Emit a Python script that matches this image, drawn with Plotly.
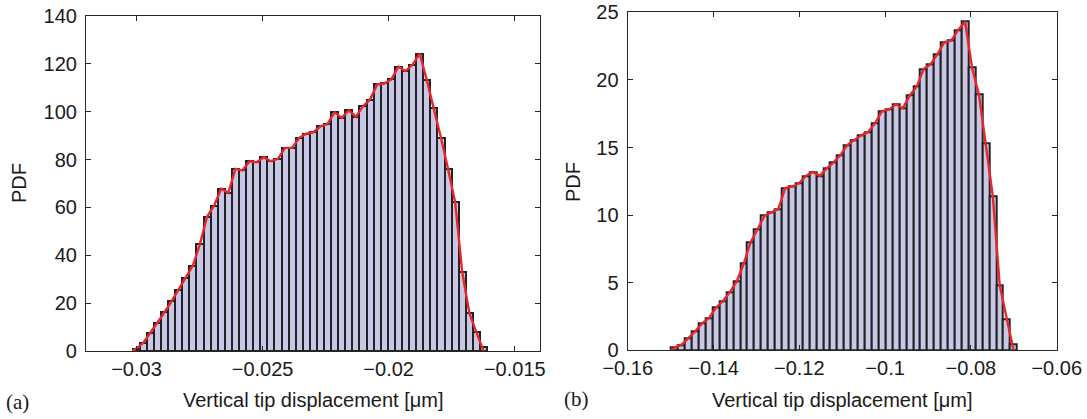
import numpy as np
import plotly.graph_objects as go

# ---------------- data ----------------
# Panel (a): histogram of vertical tip displacement [um]
a_bin_start = -0.03015
a_bin_width = 0.000281
a_pdf = [1.0, 3.4, 7.6, 11.8, 16.2, 20.8, 25.7, 30.6, 35.7, 44.8,
         56.1, 60.8, 67.8, 66.1, 76.1, 75.5, 79.3, 78.9, 81.0, 79.3,
         80.3, 84.9, 84.9, 89.1, 90.8, 91.4, 93.9, 94.9, 99.8, 97.4,
         100.6, 97.8, 102.3, 105.1, 111.4, 111.8, 113.5, 118.8, 117.0, 119.7,
         124.3, 113.2, 101.6, 89.1, 76.1, 62.2, 32.9, 15.9, 7.8, 1.7]
# red curve (density estimate) values at bin centres
a_curve = [1.0, 3.4, 7.6, 11.8, 16.2, 20.8, 25.7, 30.6, 35.7, 44.8,
           56.1, 60.8, 67.8, 66.1, 76.1, 75.5, 79.3, 78.9, 81.0, 79.3,
           80.3, 84.9, 84.9, 89.1, 90.8, 91.4, 93.9, 94.9, 99.8, 97.4,
           100.6, 97.8, 102.3, 105.1, 111.4, 111.8, 113.5, 118.8, 117.0, 119.7,
           124.3, 113.2, 101.6, 89.1, 76.1, 62.2, 32.9, 15.9, 7.8, 0.0]

# Panel (b)
b_bin_start = -0.1499
b_bin_width = 0.001613
b_pdf = [0.2, 0.4, 0.9, 1.4, 2.0, 2.4, 3.15, 3.65, 4.3, 5.1,
         6.4, 8.0, 8.95, 9.95, 10.2, 10.45, 12.0, 12.1, 12.35, 12.9,
         13.2, 12.9, 13.45, 13.9, 14.45, 15.2, 15.55, 15.9, 16.15, 16.8,
         17.7, 17.8, 18.2, 17.9, 18.85, 19.5, 20.8, 21.15, 21.9, 22.8,
         22.9, 23.7, 24.3, 20.9, 18.9, 15.3, 11.4, 4.8, 2.3, 0.45]
b_curve = [0.2, 0.4, 0.9, 1.4, 2.0, 2.4, 3.15, 3.65, 4.3, 5.1,
           6.4, 8.0, 8.95, 9.95, 10.2, 10.45, 12.0, 12.1, 12.35, 12.9,
           13.2, 12.9, 13.45, 13.9, 14.45, 15.2, 15.55, 15.9, 16.15, 16.8,
           17.7, 17.8, 18.2, 17.9, 18.85, 19.5, 20.8, 21.15, 21.9, 22.8,
           22.9, 23.7, 24.3, 20.9, 18.9, 15.3, 11.4, 4.8, 2.3, 0.0]

a_xticks = [-0.03, -0.025, -0.02, -0.015]
a_xticktext = ["\u22120.03", "\u22120.025", "\u22120.02", "\u22120.015"]
a_yticks = [0, 20, 40, 60, 80, 100, 120, 140]
b_xticks = [-0.16, -0.14, -0.12, -0.1, -0.08, -0.06]
b_xticktext = ["\u22120.16", "\u22120.14", "\u22120.12", "\u22120.1", "\u22120.08", "\u22120.06"]
b_yticks = [0, 5, 10, 15, 20, 25]

x_title = "Vertical tip displacement [\u03bcm]"
y_title = "PDF"

# ---------------- styles ----------------
W, H = 1087, 419
FONT = "Liberation Sans, Arial, Helvetica, sans-serif"
BAR_FILL = "#c8c8e6"
BAR_EDGE = "#222222"
RED = "#e8262b"
AX = "#262626"

fig = go.Figure()


def add_panel(start, width, pdf, curve, xa, ya):
    n = len(pdf)
    centers = start + width * (np.arange(n) + 0.5)
    fig.add_trace(go.Bar(x=centers, y=pdf, width=width,
                         marker=dict(color=BAR_FILL, line=dict(color=BAR_EDGE, width=2.0)),
                         xaxis=xa, yaxis=ya, showlegend=False))
    cx = np.concatenate([[start], centers])
    cy = np.concatenate([[0.0], curve])
    fig.add_trace(go.Scatter(x=cx, y=cy, mode="lines",
                             line=dict(color=RED, width=2.4),
                             xaxis=xa, yaxis=ya, showlegend=False))


add_panel(a_bin_start, a_bin_width, a_pdf, a_curve, "x", "y")
add_panel(b_bin_start, b_bin_width, b_pdf, b_curve, "x2", "y2")

axis_common = dict(showline=True, linecolor=AX, linewidth=1.2, mirror="ticks",
                   ticks="inside", ticklen=5, tickwidth=1, tickcolor=AX,
                   showgrid=False, zeroline=False, automargin=False,
                   tickfont=dict(family=FONT, size=20, color="#1a1a1a"))

fig.update_layout(
    width=W, height=H,
    margin=dict(l=0, r=0, t=0, b=0, autoexpand=False),
    paper_bgcolor="white", plot_bgcolor="white",
    bargap=0,
    xaxis=dict(domain=[86 / W, 540 / W], range=[-0.032, -0.014],
               tickmode="array", tickvals=a_xticks, ticktext=a_xticktext,
               anchor="y", ticklabelstandoff=0, **axis_common),
    yaxis=dict(domain=[(H - 351) / H, (H - 16) / H], range=[0, 140],
               tickmode="array", tickvals=a_yticks,
               anchor="x", ticklabelstandoff=4, **axis_common),
    xaxis2=dict(domain=[627.7 / W, 1056.7 / W], range=[-0.16, -0.06],
                tickmode="array", tickvals=b_xticks, ticktext=b_xticktext,
                anchor="y2", ticklabelstandoff=0, **axis_common),
    yaxis2=dict(domain=[(H - 350.3) / H, (H - 12.3) / H], range=[0, 25],
                tickmode="array", tickvals=b_yticks,
                anchor="x2", ticklabelstandoff=4, **axis_common),
)

ann_font = dict(family=FONT, size=20, color="#1a1a1a")
annotations = [
    dict(text=x_title, x=313 / W, y=(H - 400) / H, font=ann_font),
    dict(text=x_title, x=842 / W, y=(H - 400) / H, font=ann_font),
    dict(text=y_title, x=19 / W, y=(H - 183) / H, font=ann_font, textangle=-90),
    dict(text=y_title, x=573 / W, y=(H - 182) / H, font=ann_font, textangle=-90),
    dict(text="(a)", x=17 / W, y=(H - 402) / H,
         font=dict(family="Liberation Serif, Times New Roman, serif", size=21, color="#1a1a1a")),
    dict(text="(b)", x=576 / W, y=(H - 399) / H,
         font=dict(family="Liberation Serif, Times New Roman, serif", size=21, color="#1a1a1a")),
]
for a in annotations:
    a.update(xref="paper", yref="paper", xanchor="center", yanchor="middle",
             showarrow=False)
fig.update_layout(annotations=annotations)

fig.write_html("out.html")
